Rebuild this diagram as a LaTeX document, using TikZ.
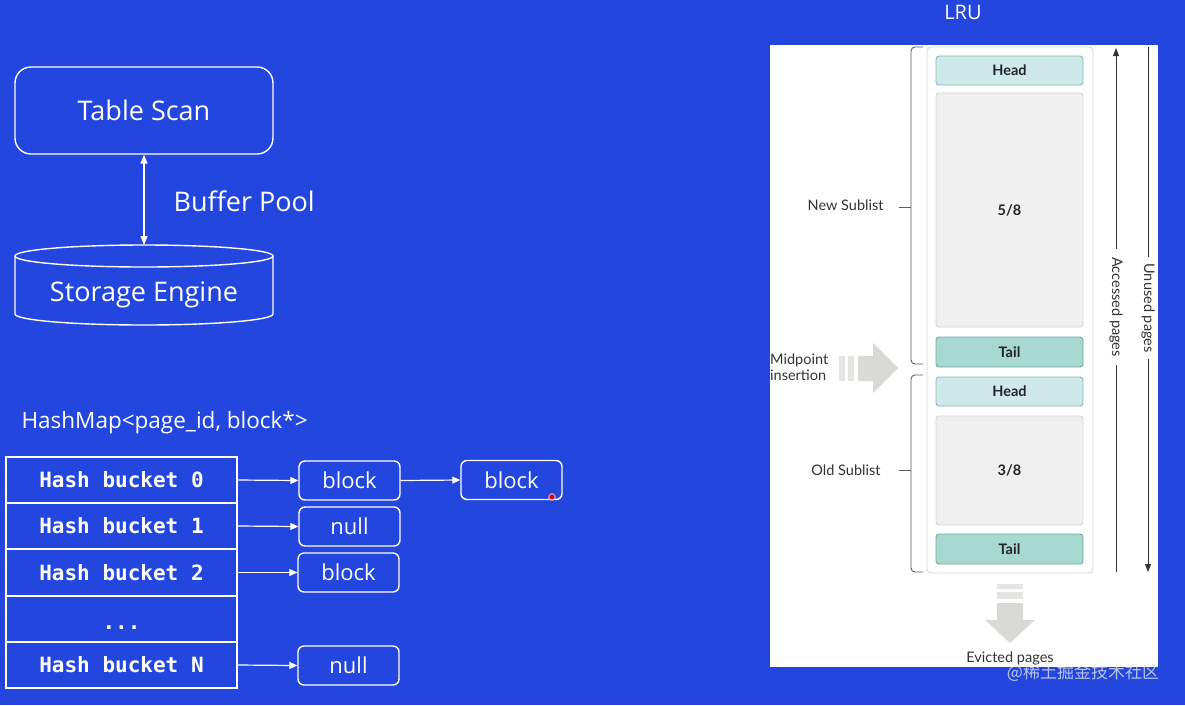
\documentclass[tikz,border=0pt]{standalone}
\usepackage{fontspec}
\setmainfont{Open Sans}
\newfontfamily\monob{DejaVu Sans Mono}
\newfontfamily\lrufont{Lato}
\newfontfamily\cjk{Noto Sans CJK SC}
\usetikzlibrary{arrows.meta}
\definecolor{bg}{HTML}{2347DE}
\definecolor{headfill}{HTML}{CFE9EB}
\definecolor{headdraw}{HTML}{86BAB5}
\definecolor{tailfill}{HTML}{A8D9D1}
\definecolor{taildraw}{HTML}{6FAAA0}
\definecolor{midfill}{HTML}{F0F0F0}
\definecolor{middraw}{HTML}{D6D6D6}
\definecolor{lrutext}{HTML}{333333}
\definecolor{bigarrow}{HTML}{D9D9D6}
\begin{document}
\begin{tikzpicture}[x=1pt,y=-1pt,
  wline/.style={draw=white, line width=1.4pt},
  wtext/.style={text=white, font=\fontsize{27}{32}\selectfont},
  bucket/.style={wline, minimum width=231pt, minimum height=46pt, inner sep=0pt,
     text=white, font=\monob\bfseries\fontsize{21}{24}\selectfont},
  blk/.style={wline, rounded corners=6pt, minimum width=101pt, minimum height=39pt, inner sep=0pt,
     text=white, font=\fontsize{22}{26}\selectfont},
  conn/.style={white, line width=1.2pt, -{Triangle[length=8pt,width=7pt]}},
  lrubox/.style={rounded corners=3pt, minimum width=147pt, inner sep=0pt, line width=0.9pt,
     text=lrutext!70!black, font=\lrufont\bfseries\fontsize{14.5}{16}\selectfont},
  headbox/.style={lrubox, fill=headfill, draw=headdraw, minimum height=29pt},
  tailbox/.style={lrubox, fill=tailfill, draw=taildraw, minimum height=30pt},
  midbox/.style={lrubox, fill=midfill, draw=middraw},
  lrulabel/.style={text=lrutext, font=\lrufont\fontsize{14.5}{16}\selectfont},
  brace/.style={draw=lrutext!80!white, line width=0.9pt, rounded corners=4pt},
  vline/.style={draw=lrutext, line width=1pt},
]
\fill[bg] (0,0) rectangle (1185,705);
\useasboundingbox (0,0) rectangle (1185,705);

% ---- Table scan / buffer pool / storage engine
\node[wline, rounded corners=16pt, minimum width=258pt, minimum height=87pt, wtext] (scan) at (144,110.5) {Table Scan};
\node[wtext, anchor=west] (bp) at (170,201) {Buffer Pool};
\draw[wline] (144,256) ellipse [x radius=129pt, y radius=11pt];
\draw[wline] (15,256) -- (15,314) arc[start angle=180, end angle=360, x radius=129pt, y radius=11pt] -- (273,256);
\node[wtext] (store) at (144,295) {Storage Engine};
\coordinate (storetop) at (144,245);
\draw[white, line width=1.2pt, {Triangle[length=9pt,width=7pt]}-{Triangle[length=9pt,width=7pt]}] (scan.south) -- (storetop);

% ---- HashMap
\node[text=white, font=\fontsize{22.5}{26}\selectfont, anchor=west] (hm) at (18,423) {HashMap<page\_id, block*>};
\node[bucket] (r0) at (121.5,480) {Hash bucket 0};
\node[bucket] (r1) at (121.5,526) {Hash bucket 1};
\node[bucket] (r2) at (121.5,572.5) {Hash bucket 2};
\node[bucket, text depth=0pt, text height=0pt] (r3) at (121.5,619) {\raisebox{-10pt}{...}};
\node[bucket] (rN) at (121.5,665) {Hash bucket N};

\node[blk] (b0) at (349.5,480.5) {block};
\node[blk] (b0b) at (511.5,480) {block};
\node[blk] (n1) at (349.5,526.5) {null};
\node[blk] (b2) at (348.5,572.5) {block};
\node[blk] (nN) at (348.5,665.5) {null};

\draw[conn] (r0.east) -- (b0.west);
\draw[conn] (b0.east) -- (b0b.west);
\draw[conn] (r1.east) -- (n1.west);
\draw[conn] (r2.east) -- (b2.west);
\draw[conn] (rN.east) -- (nN.west);
\fill[red!40!white, opacity=0.7] (552,497) circle (4pt);
\fill[red!85!black] (552,497) circle (2.2pt);

% ---- LRU panel
\node[text=white, font=\fontsize{20}{24}\selectfont] (lru) at (963,12) {LRU};
\fill[white] (770,45) rectangle (1158,667);
\draw[draw=middraw, line width=0.9pt, rounded corners=4pt] (927,47) rectangle (1093,573);

\node[headbox] (h1) at (1009.5,70.5) {Head};
\node[midbox, minimum height=234pt] (m1) at (1009.5,210) {5/8};
\node[tailbox] (t1) at (1009.5,352) {Tail};
\node[headbox] (h2) at (1009.5,391.5) {Head};
\node[midbox, minimum height=109pt] (m2) at (1009.5,470.5) {3/8};
\node[tailbox] (t2) at (1009.5,549) {Tail};

% braces
\draw[brace] (923,47) -- (911,47) -- (911,364) -- (923,364);
\draw[draw=lrutext!80!white, line width=0.9pt] (899,207) -- (911,207);
\draw[brace] (923,375) -- (911,375) -- (911,572) -- (923,572);
\draw[draw=lrutext!80!white, line width=0.9pt] (899,470) -- (911,470);
\node[lrulabel, anchor=east] (newsub) at (887,205) {New Sublist};
\node[lrulabel, anchor=east] (oldsub) at (884,470) {Old Sublist};

% midpoint insertion arrow
\fill[bigarrow!70!white] (839,356) rectangle (845,381);
\fill[bigarrow!70!white] (848,356) rectangle (854,381);
\fill[bigarrow] (858,356) -- (873,356) -- (873,343) -- (898,368) -- (873,393) -- (873,381) -- (858,381) -- cycle;
\node[lrulabel, anchor=west, align=left, inner sep=0pt] (mid) at (770,367) {Midpoint\\insertion};

% evicted arrow
\fill[bigarrow!70!white] (997,584) rectangle (1023,589);
\fill[bigarrow!70!white] (997,592) rectangle (1023,599);
\fill[bigarrow] (997,603) -- (1023,603) -- (1023,620) -- (1035,620) -- (1010,643) -- (985,620) -- (997,620) -- cycle;
\node[lrulabel] (evict) at (1010,658) {Evicted pages};

% accessed / unused pages
\node[lrulabel, rotate=-90, inner xsep=8pt] (acc) at (1116,307) {Accessed pages};
\coordinate (acctop) at (1116,48);
\coordinate (accbot) at (1116,572);
\draw[vline] (accbot) -- (acc.east);
\draw[vline, -{Triangle[length=8pt,width=6pt]}] (acc.west) -- (acctop);
\node[lrulabel, rotate=-90, inner xsep=6pt] (unu) at (1148,308) {Unused pages};
\coordinate (unutop) at (1148,47);
\coordinate (unubot) at (1148,572);
\draw[vline] (unutop) -- (unu.west);
\draw[vline, -{Triangle[length=8pt,width=6pt]}] (unu.east) -- (unubot);

% watermark
\node[text=white!85!gray, opacity=0.75, font=\cjk\fontsize{17}{20}\selectfont] (wm) at (1083,673) {@稀土掘金技术社区};
\end{tikzpicture}
\end{document}
